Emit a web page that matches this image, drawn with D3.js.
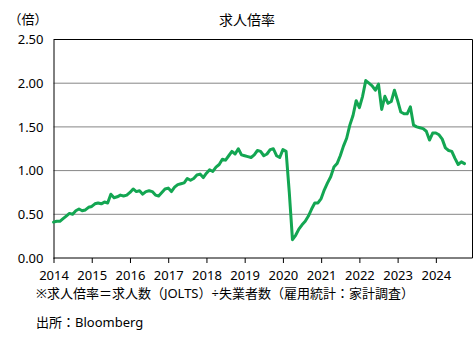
<!DOCTYPE html>
<html><head><meta charset="utf-8">
<script src="https://cdn.jsdelivr.net/npm/d3@7"></script>
<style>
html,body{margin:0;padding:0;background:#fff;}
svg text{font-family:"Noto Sans","Noto Sans CJK JP",sans-serif;fill:#000;}
</style></head>
<body>
<svg id="chart" width="475" height="338"></svg>
<script>
// Monthly ratio, Jan 2014 .. Oct 2024
const startYear = 2014;
const ratio2014 = [0.41,0.42,0.42,0.45,0.48,0.51,0.50,0.54,0.56,0.54,0.55,0.58];
const ratio2015 = [0.59,0.62,0.63,0.62,0.64,0.63,0.73,0.69,0.70,0.72,0.71,0.72];
const ratio2016 = [0.75,0.79,0.76,0.77,0.73,0.76,0.77,0.76,0.72,0.71,0.75,0.79];
const ratio2017 = [0.80,0.76,0.81,0.84,0.85,0.86,0.91,0.89,0.91,0.95,0.96,0.92];
const ratio2018 = [0.97,1.01,0.99,1.04,1.07,1.13,1.12,1.17,1.22,1.19,1.25,1.18];
const ratio2019 = [1.17,1.16,1.15,1.18,1.23,1.22,1.17,1.19,1.24,1.25,1.17,1.15];
const ratio2020 = [1.24,1.22,0.75,0.21,0.26,0.33,0.38,0.42,0.48,0.56,0.63,0.63];
const ratio2021 = [0.68,0.78,0.86,0.93,1.04,1.08,1.17,1.28,1.37,1.52,1.63,1.80];
const ratio2022 = [1.72,1.85,2.03,2.00,1.97,1.92,1.99,1.70,1.85,1.77,1.79,1.92];
const ratio2023 = [1.80,1.67,1.65,1.65,1.73,1.52,1.50,1.49,1.48,1.45,1.35,1.43];
const ratio2024 = [1.43,1.41,1.36,1.26,1.23,1.22,1.14,1.07,1.10,1.08];
const values = [].concat(ratio2014,ratio2015,ratio2016,ratio2017,ratio2018,ratio2019,
                         ratio2020,ratio2021,ratio2022,ratio2023,ratio2024);
const yearLabels = ["2014","2015","2016","2017","2018","2019","2020","2021","2022","2023","2024"];
const yTicks = [0,0.5,1.0,1.5,2.0,2.5];
const title = "求人倍率";
const unitLabel = "（倍）";
const note1 = "※求人倍率＝求人数（JOLTS）÷失業者数（雇用統計：家計調査）";
const note2 = "出所：Bloomberg";

const svg = d3.select("#chart");
const L = 53.5, R = 472.5, T = 39.5, B = 258;
const x = d3.scaleLinear().domain([0, 131.5]).range([L, R]);
const y = d3.scaleLinear().domain([0, 2.5]).range([B, T]);

// grid lines
svg.append("g").selectAll("line").data(yTicks.filter(d => d > 0 && d < 2.5)).join("line")
  .attr("x1", L).attr("x2", R).attr("y1", d => y(d)).attr("y2", d => y(d))
  .attr("stroke", "#868686").attr("stroke-width", 1);

// frame
svg.append("line").attr("x1", L).attr("x2", R).attr("y1", T).attr("y2", T).attr("stroke","#000");
svg.append("line").attr("x1", R).attr("x2", R).attr("y1", T).attr("y2", B).attr("stroke","#000");

// y axis
const yAxis = d3.axisLeft(y).tickValues(yTicks).tickSize(0).tickPadding(10).tickFormat(d3.format(".2f"));
const gy = svg.append("g").attr("transform", `translate(${L},0)`).call(yAxis);
gy.select(".domain").attr("stroke", "#000");
gy.selectAll("text").attr("font-size", 13).attr("fill", "#000");

// x axis
const xAxis = d3.axisBottom(x).tickValues(yearLabels.map((d, i) => i * 12))
  .tickSize(5).tickPadding(8).tickFormat((d, i) => yearLabels[i]);
const gx = svg.append("g").attr("transform", `translate(0,${B})`).call(xAxis);
gx.select(".domain").attr("stroke", "#000").attr("d", `M${L},0H${R}`);
gx.selectAll(".tick line").attr("stroke", "#000");
gx.selectAll("text").attr("font-size", 13).attr("fill", "#000");

// line
const line = d3.line().x((d, i) => x(i)).y(d => y(d));
svg.append("path").datum(values).attr("d", line)
  .attr("fill", "none").attr("stroke", "#13A652").attr("stroke-width", 3)
  .attr("stroke-linejoin", "round").attr("stroke-linecap", "round");

// texts
svg.append("text").attr("x", 247).attr("y", 25).attr("text-anchor", "middle")
  .attr("font-size", 14).text(title);
svg.append("text").attr("x", 28).attr("y", 24).attr("text-anchor", "middle")
  .attr("font-size", 13).text(unitLabel);
svg.append("text").attr("x", 36).attr("y", 298).attr("font-size", 13).text(note1);
svg.append("text").attr("x", 36).attr("y", 327).attr("font-size", 13).text(note2);
</script>
</body></html>
